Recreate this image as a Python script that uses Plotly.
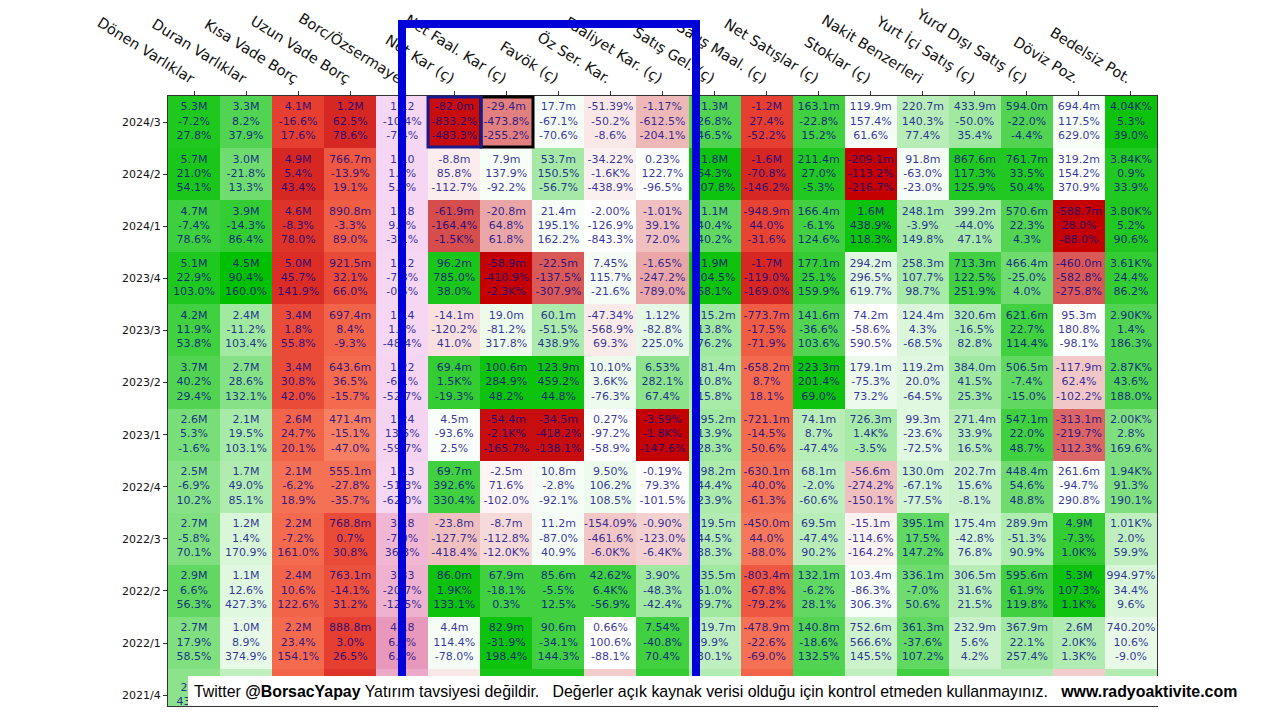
import plotly.graph_objects as go

# ---------------- data ----------------
rows = ["2024/3", "2024/2", "2024/1", "2023/4", "2023/3", "2023/2", "2023/1",
        "2022/4", "2022/3", "2022/2", "2022/1", "2021/4"]
columns = ["Dönen Varlıklar", "Duran Varlıklar", "Kısa Vade Borç", "Uzun Vade Borç",
           "Borc/Özsermaye", "Net Kar (ç)", "Net Faal. Kar (ç)", "Favök (ç)",
           "Öz Ser. Kar.", "Faaliyet Kar. (ç)", "Satış Gel. (ç)", "Satış Maal. (ç)",
           "Net Satışlar (ç)", "Stoklar (ç)", "Nakit Benzerleri", "Yurt İçi Satış (ç)",
           "Yurd Dışı Satış (ç)", "Döviz Poz.", "Bedelsiz Pot."]

# cell texts per column (value, change 1, change 2) for each row
donen = [("5.3M", "-7.2%", "27.8%"), ("5.7M", "21.0%", "54.1%"), ("4.7M", "-7.4%", "78.6%"),
         ("5.1M", "22.9%", "103.0%"), ("4.2M", "11.9%", "53.8%"), ("3.7M", "40.2%", "29.4%"),
         ("2.6M", "5.3%", "-1.6%"), ("2.5M", "-6.9%", "10.2%"), ("2.7M", "-5.8%", "70.1%"),
         ("2.9M", "6.6%", "56.3%"), ("2.7M", "17.9%", "58.5%"), ("2.3M", "43.2%", "")]
duran = [("3.3M", "8.2%", "37.9%"), ("3.0M", "-21.8%", "13.3%"), ("3.9M", "-14.3%", "86.4%"),
         ("4.5M", "90.4%", "160.0%"), ("2.4M", "-11.2%", "103.4%"), ("2.7M", "28.6%", "132.1%"),
         ("2.1M", "19.5%", "103.1%"), ("1.7M", "49.0%", "85.1%"), ("1.2M", "1.4%", "170.9%"),
         ("1.1M", "12.6%", "427.3%"), ("1.0M", "8.9%", "374.9%"), ("", "", "")]
kisa_borc = [("4.1M", "-16.6%", "17.6%"), ("4.9M", "5.4%", "43.4%"), ("4.6M", "-8.3%", "78.0%"),
             ("5.0M", "45.7%", "141.9%"), ("3.4M", "1.8%", "55.8%"), ("3.4M", "30.8%", "42.0%"),
             ("2.6M", "24.7%", "20.1%"), ("2.1M", "-6.2%", "18.9%"), ("2.2M", "-7.2%", "161.0%"),
             ("2.4M", "10.6%", "122.6%"), ("2.2M", "23.4%", "154.1%"), ("", "", "")]
uzun_borc = [("1.2M", "62.5%", "78.6%"), ("766.7m", "-13.9%", "19.1%"), ("890.8m", "-3.3%", "89.0%"),
             ("921.5m", "32.1%", "66.0%"), ("697.4m", "8.4%", "-9.3%"), ("643.6m", "36.5%", "-15.7%"),
             ("471.4m", "-15.1%", "-47.0%"), ("555.1m", "-27.8%", "-35.7%"), ("768.8m", "0.7%", "30.8%"),
             ("763.1m", "-14.1%", "31.2%"), ("888.8m", "3.0%", "26.5%"), ("", "", "")]
borc_oz = [("1.12", "-10.4%", "-7.4%"), ("1.10", "1.5%", "5.5%"), ("1.18", "9.2%", "-3.1%"),
           ("1.12", "-7.3%", "-0.5%"), ("1.14", "1.3%", "-48.4%"), ("1.22", "-6.1%", "-52.7%"),
           ("1.24", "13.5%", "-59.7%"), ("1.13", "-51.3%", "-62.0%"), ("3.18", "-7.0%", "36.3%"),
           ("3.33", "-20.7%", "-12.5%"), ("4.18", "6.5%", "6.8%"), ("", "", "")]
net_kar = [("-82.0m", "-833.2%", "-483.3%"), ("-8.8m", "85.8%", "-112.7%"), ("-61.9m", "-164.4%", "-1.5K%"),
           ("96.2m", "785.0%", "38.0%"), ("-14.1m", "-120.2%", "41.0%"), ("69.4m", "1.5K%", "-19.3%"),
           ("4.5m", "-93.6%", "2.5%"), ("69.7m", "392.6%", "330.4%"), ("-23.8m", "-127.7%", "-418.4%"),
           ("86.0m", "1.9K%", "133.1%"), ("4.4m", "114.4%", "-78.0%"), ("", "", "")]
net_faal = [("-29.4m", "-473.8%", "-255.2%"), ("7.9m", "137.9%", "-92.2%"), ("-20.8m", "64.8%", "61.8%"),
            ("-58.9m", "-410.9%", "-2.3K%"), ("19.0m", "-81.2%", "317.8%"), ("100.6m", "284.9%", "48.2%"),
            ("-54.4m", "-2.1K%", "-165.7%"), ("-2.5m", "71.6%", "-102.0%"), ("-8.7m", "-112.8%", "-12.0K%"),
            ("67.9m", "-18.1%", "0.3%"), ("82.9m", "-31.9%", "198.4%"), ("", "", "")]
favok = [("17.7m", "-67.1%", "-70.6%"), ("53.7m", "150.5%", "-56.7%"), ("21.4m", "195.1%", "162.2%"),
         ("-22.5m", "-137.5%", "-307.9%"), ("60.1m", "-51.5%", "438.9%"), ("123.9m", "459.2%", "44.8%"),
         ("-34.5m", "-418.2%", "-138.1%"), ("10.8m", "-2.8%", "-92.1%"), ("11.2m", "-87.0%", "40.9%"),
         ("85.6m", "-5.5%", "12.5%"), ("90.6m", "-34.1%", "144.3%"), ("", "", "")]
oz_ser = [("-51.39%", "-50.2%", "-8.6%"), ("-34.22%", "-1.6K%", "-438.9%"), ("-2.00%", "-126.9%", "-843.3%"),
          ("7.45%", "115.7%", "-21.6%"), ("-47.34%", "-568.9%", "69.3%"), ("10.10%", "3.6K%", "-76.3%"),
          ("0.27%", "-97.2%", "-58.9%"), ("9.50%", "106.2%", "108.5%"), ("-154.09%", "-461.6%", "-6.0K%"),
          ("42.62%", "6.4K%", "-56.9%"), ("0.66%", "100.6%", "-88.1%"), ("", "", "")]
faaliyet = [("-1.17%", "-612.5%", "-204.1%"), ("0.23%", "122.7%", "-96.5%"), ("-1.01%", "39.1%", "72.0%"),
            ("-1.65%", "-247.2%", "-789.0%"), ("1.12%", "-82.8%", "225.0%"), ("6.53%", "282.1%", "67.4%"),
            ("-3.59%", "-1.8K%", "-147.6%"), ("-0.19%", "79.3%", "-101.5%"), ("-0.90%", "-123.0%", "-6.4K%"),
            ("3.90%", "-48.3%", "-42.4%"), ("7.54%", "-40.8%", "70.4%"), ("", "", "")]
satis_gel = [("1.3M", "26.8%", "46.5%"), ("1.8M", "64.3%", "107.8%"), ("1.1M", "40.4%", "40.2%"),
             ("1.9M", "104.5%", "68.1%"), ("815.2m", "13.8%", "76.2%"), ("881.4m", "10.8%", "15.8%"),
             ("795.2m", "13.9%", "28.3%"), ("698.2m", "44.4%", "23.9%"), ("519.5m", "44.5%", "38.3%"),
             ("535.5m", "51.0%", "59.7%"), ("619.7m", "9.9%", "30.1%"), ("", "", "")]
satis_maal = [("-1.2M", "27.4%", "-52.2%"), ("-1.6M", "-70.8%", "-146.2%"), ("-948.9m", "44.0%", "-31.6%"),
              ("-1.7M", "-119.0%", "-169.0%"), ("-773.7m", "-17.5%", "-71.9%"), ("-658.2m", "8.7%", "18.1%"),
              ("-721.1m", "-14.5%", "-50.6%"), ("-630.1m", "-40.0%", "-61.3%"), ("-450.0m", "44.0%", "-88.0%"),
              ("-803.4m", "-67.8%", "-79.2%"), ("-478.9m", "-22.6%", "-69.0%"), ("", "", "")]
net_satis = [("163.1m", "-22.8%", "15.2%"), ("211.4m", "27.0%", "-5.3%"), ("166.4m", "-6.1%", "124.6%"),
             ("177.1m", "25.1%", "159.9%"), ("141.6m", "-36.6%", "103.6%"), ("223.3m", "201.4%", "69.0%"),
             ("74.1m", "8.7%", "-47.4%"), ("68.1m", "-2.0%", "-60.6%"), ("69.5m", "-47.4%", "90.2%"),
             ("132.1m", "-6.2%", "28.1%"), ("140.8m", "-18.6%", "132.5%"), ("", "", "")]
stoklar = [("119.9m", "157.4%", "61.6%"), ("-209.1m", "-113.2%", "-216.7%"), ("1.6M", "438.9%", "118.3%"),
           ("294.2m", "296.5%", "619.7%"), ("74.2m", "-58.6%", "590.5%"), ("179.1m", "-75.3%", "73.2%"),
           ("726.3m", "1.4K%", "-3.5%"), ("-56.6m", "-274.2%", "-150.1%"), ("-15.1m", "-114.6%", "-164.2%"),
           ("103.4m", "-86.3%", "306.3%"), ("752.6m", "566.6%", "145.5%"), ("", "", "")]
nakit = [("220.7m", "140.3%", "77.4%"), ("91.8m", "-63.0%", "-23.0%"), ("248.1m", "-3.9%", "149.8%"),
         ("258.3m", "107.7%", "98.7%"), ("124.4m", "4.3%", "-68.5%"), ("119.2m", "20.0%", "-64.5%"),
         ("99.3m", "-23.6%", "-72.5%"), ("130.0m", "-67.1%", "-77.5%"), ("395.1m", "17.5%", "147.2%"),
         ("336.1m", "-7.0%", "50.6%"), ("361.3m", "-37.6%", "107.2%"), ("", "", "")]
yurt_ici = [("433.9m", "-50.0%", "35.4%"), ("867.6m", "117.3%", "125.9%"), ("399.2m", "-44.0%", "47.1%"),
            ("713.3m", "122.5%", "251.9%"), ("320.6m", "-16.5%", "82.8%"), ("384.0m", "41.5%", "25.3%"),
            ("271.4m", "33.9%", "16.5%"), ("202.7m", "15.6%", "-8.1%"), ("175.4m", "-42.8%", "76.8%"),
            ("306.5m", "31.6%", "21.5%"), ("232.9m", "5.6%", "4.2%"), ("", "", "")]
yurt_disi = [("594.0m", "-22.0%", "-4.4%"), ("761.7m", "33.5%", "50.4%"), ("570.6m", "22.3%", "4.3%"),
             ("466.4m", "-25.0%", "4.0%"), ("621.6m", "22.7%", "114.4%"), ("506.5m", "-7.4%", "-15.0%"),
             ("547.1m", "22.0%", "48.7%"), ("448.4m", "54.6%", "48.8%"), ("289.9m", "-51.3%", "90.9%"),
             ("595.6m", "61.9%", "119.8%"), ("367.9m", "22.1%", "257.4%"), ("", "", "")]
doviz = [("694.4m", "117.5%", "629.0%"), ("319.2m", "154.2%", "370.9%"), ("-588.7m", "28.0%", "-88.0%"),
         ("-460.0m", "-582.8%", "-275.8%"), ("95.3m", "180.8%", "-98.1%"), ("-117.9m", "62.4%", "-102.2%"),
         ("-313.1m", "-219.7%", "-112.3%"), ("261.6m", "-94.7%", "290.8%"), ("4.9M", "-7.3%", "1.0K%"),
         ("5.3M", "107.3%", "1.1K%"), ("2.6M", "2.0K%", "1.3K%"), ("", "", "")]
bedelsiz = [("4.04K%", "5.3%", "39.0%"), ("3.84K%", "0.9%", "33.9%"), ("3.80K%", "5.2%", "90.6%"),
            ("3.61K%", "24.4%", "86.2%"), ("2.90K%", "1.4%", "186.3%"), ("2.87K%", "43.6%", "188.0%"),
            ("2.00K%", "2.8%", "169.6%"), ("1.94K%", "91.3%", "190.1%"), ("1.01K%", "2.0%", "59.9%"),
            ("994.97%", "34.4%", "9.6%"), ("740.20%", "10.6%", "-9.0%"), ("", "", "")]

cell_text = [donen, duran, kisa_borc, uzun_borc, borc_oz, net_kar, net_faal, favok, oz_ser,
             faaliyet, satis_gel, satis_maal, net_satis, stoklar, nakit, yurt_ici, yurt_disi,
             doviz, bedelsiz]

# colour intensity, per column (one per row)
# diverging columns: -10 (deep red) .. 0 (white) .. +10 (deep green)
div_levels = {
    0: [8.8, 9.0, 7.6, 8.8, 7.5, 6.8, 5.3, 4.7, 5.0, 6.2, 5.0, 4.5],
    1: [6.8, 5.6, 8.0, 10, 3.7, 4.7, 3.4, 3.1, 1.5, 1.2, 0.9, 2.5],
    5: [-9.5, -0.7, -7.0, 9.0, -1.2, 8.0, 0.2, 7.5, -2.5, 9.5, 0.4, -1.0],
    6: [-5.0, 0.3, -3.5, -10, 0.7, 9.5, -9.5, -0.4, -1.5, 7.5, 9.5, 9.0],
    7: [0.4, 3.5, 0.3, -6.5, 3.2, 9.5, -9.5, 0.4, 0.4, 7.5, 7.5, 9.0],
    8: [-0.9, -0.6, 0.0, 0.4, -0.8, 0.7, 0.0, 0.7, -2.2, 7.5, 0.0, -2.0],
    9: [-2.8, 0.1, -2.5, -3.5, 1.0, 4.5, -10, -0.1, -1.8, 3.7, 7.5, 8.0],
    10: [6.8, 9.5, 6.2, 9.5, 3.7, 3.4, 3.7, 3.2, 3.0, 3.7, 2.5, 3.0],
    12: [7.5, 8.7, 7.5, 8.0, 6.8, 9.5, 2.8, 2.5, 2.8, 6.2, 6.8, 7.0],
    13: [0.4, -10, 9.5, 1.2, 0.0, 0.8, 3.4, -2.5, -0.5, 0.3, 2.0, 2.5],
    14: [2.8, 0.4, 3.4, 3.4, 1.4, 1.2, 1.2, 1.8, 6.2, 5.6, 6.2, 7.5],
    15: [3.7, 8.7, 3.4, 7.5, 3.1, 3.7, 2.8, 2.0, 1.8, 2.8, 2.0, 3.0],
    16: [6.8, 8.7, 6.8, 5.6, 7.5, 6.2, 7.5, 5.6, 3.1, 7.5, 3.7, 3.0],
    17: [0.3, 0.1, -10, -6.5, 0.1, -2.2, -6.0, 0.2, 8.0, 9.5, 3.0, -2.0],
    18: [9.5, 8.7, 8.7, 8.0, 6.8, 6.8, 5.0, 5.0, 2.5, 1.5, 0.9, 3.0],
}
# debt / cost columns: 0 (light red) .. 10 (deep red)
red_levels = {
    2: [7.0, 9.0, 8.0, 8.5, 6.0, 6.0, 4.0, 3.0, 3.5, 4.0, 3.5, 4.0],
    3: [9.0, 5.0, 4.5, 6.0, 4.0, 3.5, 2.0, 3.0, 6.0, 5.5, 7.0, 8.0],
    11: [7.0, 9.0, 6.5, 9.0, 4.5, 3.5, 3.5, 3.0, 2.5, 5.0, 3.0, 4.0],
}
# debt / equity ratio column (ratio value)
ratio_col = 4
ratio_values = [1.12, 1.10, 1.18, 1.12, 1.14, 1.22, 1.24, 1.13, 3.18, 3.33, 4.18, 3.6]

footer_parts = ["Twitter ", "@BorsacYapay", " Yatırım tavsiyesi değildir.",
                "   Değerler açık kaynak verisi olduğu için kontrol etmeden kullanmayınız.   ",
                "www.radyoaktivite.com"]

# ---------------- build ----------------
nr, nc = len(rows), len(columns)


def matrix_from(levels):
    m = [[None] * nc for _ in range(nr)]
    for c, vals in levels.items():
        for r, v in enumerate(vals):
            m[r][c] = v
    return m


z_div = matrix_from(div_levels)
z_red = matrix_from(red_levels)
z_ratio = matrix_from({ratio_col: ratio_values})

xs = list(range(nc))
ys = list(range(nr))

fig = go.Figure()
fig.add_trace(go.Heatmap(
    z=z_div, x=xs, y=ys, zmin=-10, zmax=10, showscale=False, hoverinfo="skip",
    colorscale=[[0, "#c40000"], [0.5, "#ffffff"], [1, "#00c000"]]))
fig.add_trace(go.Heatmap(
    z=z_red, x=xs, y=ys, zmin=0, zmax=10, showscale=False, hoverinfo="skip",
    colorscale=[[0, "#fb9a7c"], [0.35, "#f46a4e"], [0.7, "#e63e30"], [1, "#cf1c1c"]]))
fig.add_trace(go.Heatmap(
    z=z_ratio, x=xs, y=ys, zmin=1.0, zmax=4.5, showscale=False, hoverinfo="skip",
    colorscale=[[0, "#f5d8f5"], [0.6, "#f1b8d6"], [1, "#e58fb3"]]))

tx, ty, tt = [], [], []
for c, col in enumerate(cell_text):
    for r, cell in enumerate(col):
        lines = [s for s in cell if s != ""]
        if not lines:
            continue
        tx.append(c)
        ty.append(r)
        tt.append("<br>".join(lines))
fig.add_trace(go.Scatter(
    x=tx, y=ty, text=tt, mode="text", textposition="middle center", hoverinfo="skip",
    textfont=dict(family="DejaVu Sans", size=11, color="rgba(0,0,135,0.8)"),
    cliponaxis=True, showlegend=False))

# ---------------- layout ----------------
L, R, T, B = 168, 1157, 96, 706
W, H = 1280, 720


def px(x):
    return (x - L) / (R - L)


def py(y):
    return (B - y) / (B - T)


shapes = [
    dict(type="rect", xref="paper", yref="paper", x0=px(402), x1=px(696), y0=py(692), y1=py(24),
         line=dict(color="#0000d8", width=8), fillcolor="rgba(0,0,0,0)", layer="above"),
    dict(type="rect", xref="paper", yref="paper", x0=px(481), x1=px(533), y0=py(147), y1=py(97),
         line=dict(color="#000000", width=3), fillcolor="rgba(0,0,0,0)", layer="above"),
    dict(type="rect", xref="paper", yref="paper", x0=px(428), x1=px(481), y0=py(147), y1=py(97),
         line=dict(color="#1a1a8c", width=3), fillcolor="rgba(0,0,0,0)", layer="above"),
    dict(type="rect", xref="paper", yref="paper", x0=px(188), x1=px(1245), y0=py(706), y1=py(676),
         line=dict(width=0), fillcolor="#ffffff", layer="above"),
]

nb = "\u00a0"
footer_html = (footer_parts[0] + "<b>" + footer_parts[1] + "</b>" + footer_parts[2]
               + footer_parts[3].replace("   ", nb * 3)
               + "<b>" + footer_parts[4] + "</b>")

fig.update_layout(
    width=W, height=H,
    margin=dict(l=L, r=W - R, t=T, b=H - B, pad=0, autoexpand=False),
    paper_bgcolor="white", plot_bgcolor="white",
    shapes=shapes,
    annotations=[dict(
        xref="paper", yref="paper", x=px(192), y=py(691), xanchor="left", yanchor="middle",
        text=footer_html, showarrow=False,
        font=dict(family="Liberation Sans, Arial", size=15.9, color="#000000"))],
    xaxis=dict(
        side="top", tickmode="array", tickvals=xs, ticktext=columns, tickangle=32,
        automargin=False,
        range=[-0.5, nc - 0.5], ticks="outside", ticklen=4, tickcolor="#333",
        tickfont=dict(family="DejaVu Sans", size=14.5, color="#111"),
        showline=True, mirror=True, linecolor="#333", linewidth=1, showgrid=False, zeroline=False),
    yaxis=dict(
        tickmode="array", tickvals=ys, ticktext=rows, automargin=False,
        range=[(B - T) / 52.1 - 0.5, -0.5], ticks="outside", ticklen=4, tickcolor="#333",
        tickfont=dict(family="DejaVu Sans", size=11, color="#111"),
        showline=True, mirror=True, linecolor="#333", linewidth=1, showgrid=False, zeroline=False),
)

fig.write_html("out.html", config={"displayModeBar": False},
               post_script="document.body.style.margin='0';document.body.style.overflow='hidden';")
